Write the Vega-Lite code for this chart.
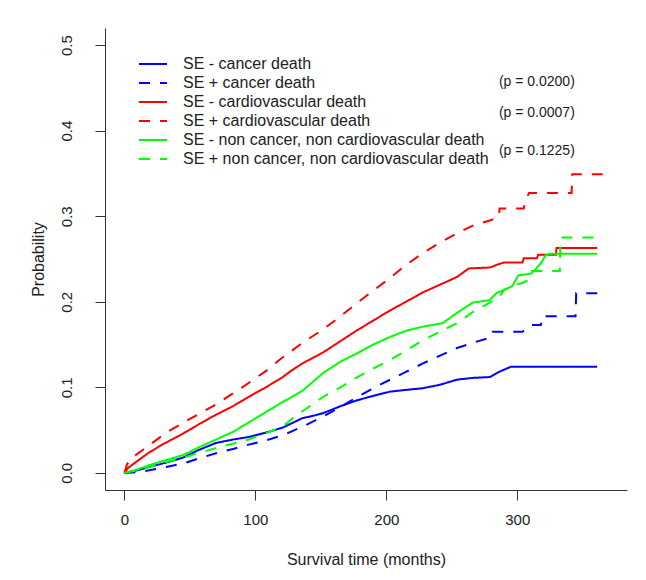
{
  "$schema": "https://vega.github.io/schema/vega-lite/v6.json",
  "width": 522,
  "height": 462,
  "autosize": {"type": "none"},
  "padding": {"left": 105, "top": 28, "right": 19, "bottom": 90},
  "background": "white",
  "config": {
    "view": {"stroke": null},
    "font": "Liberation Sans",
    "axis": {
      "grid": false,
      "labelFont": "Liberation Sans",
      "titleFont": "Liberation Sans",
      "labelFontSize": 15,
      "titleFontSize": 16,
      "titleFontWeight": "normal",
      "labelColor": "#222222",
      "titleColor": "#222222",
      "domainColor": "#333333",
      "tickColor": "#333333",
      "tickSize": 10,
      "domainWidth": 1,
      "tickWidth": 1
    },
    "legend": {
      "labelFont": "Liberation Sans",
      "labelFontSize": 16,
      "labelColor": "#222222",
      "labelLimit": 0
    }
  },
  "datasets": {
    "curves": [
      {"s": "SE - cancer death", "t": 0, "p": 0},
      {"s": "SE - cancer death", "t": 10, "p": 0.003},
      {"s": "SE - cancer death", "t": 19, "p": 0.007},
      {"s": "SE - cancer death", "t": 32, "p": 0.012},
      {"s": "SE - cancer death", "t": 45, "p": 0.018},
      {"s": "SE - cancer death", "t": 57, "p": 0.027},
      {"s": "SE - cancer death", "t": 70, "p": 0.035},
      {"s": "SE - cancer death", "t": 83, "p": 0.039},
      {"s": "SE - cancer death", "t": 95, "p": 0.042},
      {"s": "SE - cancer death", "t": 108, "p": 0.047},
      {"s": "SE - cancer death", "t": 121, "p": 0.053},
      {"s": "SE - cancer death", "t": 136, "p": 0.064},
      {"s": "SE - cancer death", "t": 145, "p": 0.067},
      {"s": "SE - cancer death", "t": 152, "p": 0.07},
      {"s": "SE - cancer death", "t": 165, "p": 0.078},
      {"s": "SE - cancer death", "t": 178, "p": 0.085},
      {"s": "SE - cancer death", "t": 190, "p": 0.09},
      {"s": "SE - cancer death", "t": 203, "p": 0.095},
      {"s": "SE - cancer death", "t": 215, "p": 0.097},
      {"s": "SE - cancer death", "t": 228, "p": 0.099},
      {"s": "SE - cancer death", "t": 241, "p": 0.103},
      {"s": "SE - cancer death", "t": 254, "p": 0.109},
      {"s": "SE - cancer death", "t": 266, "p": 0.111},
      {"s": "SE - cancer death", "t": 279, "p": 0.112},
      {"s": "SE - cancer death", "t": 286, "p": 0.118},
      {"s": "SE - cancer death", "t": 295, "p": 0.124},
      {"s": "SE - cancer death", "t": 361, "p": 0.124},

      {"s": "SE + cancer death", "t": 0, "p": 0},
      {"s": "SE + cancer death", "t": 10, "p": 0.001},
      {"s": "SE + cancer death", "t": 19, "p": 0.003},
      {"s": "SE + cancer death", "t": 32, "p": 0.007},
      {"s": "SE + cancer death", "t": 45, "p": 0.011},
      {"s": "SE + cancer death", "t": 57, "p": 0.017},
      {"s": "SE + cancer death", "t": 70, "p": 0.023},
      {"s": "SE + cancer death", "t": 83, "p": 0.028},
      {"s": "SE + cancer death", "t": 95, "p": 0.033},
      {"s": "SE + cancer death", "t": 108, "p": 0.038},
      {"s": "SE + cancer death", "t": 121, "p": 0.044},
      {"s": "SE + cancer death", "t": 136, "p": 0.054},
      {"s": "SE + cancer death", "t": 152, "p": 0.066},
      {"s": "SE + cancer death", "t": 165, "p": 0.077},
      {"s": "SE + cancer death", "t": 178, "p": 0.089},
      {"s": "SE + cancer death", "t": 190, "p": 0.099},
      {"s": "SE + cancer death", "t": 203, "p": 0.109},
      {"s": "SE + cancer death", "t": 215, "p": 0.118},
      {"s": "SE + cancer death", "t": 228, "p": 0.128},
      {"s": "SE + cancer death", "t": 241, "p": 0.137},
      {"s": "SE + cancer death", "t": 254, "p": 0.146},
      {"s": "SE + cancer death", "t": 266, "p": 0.152},
      {"s": "SE + cancer death", "t": 279, "p": 0.158},
      {"s": "SE + cancer death", "t": 281, "p": 0.165},
      {"s": "SE + cancer death", "t": 304, "p": 0.165},
      {"s": "SE + cancer death", "t": 311, "p": 0.173},
      {"s": "SE + cancer death", "t": 318, "p": 0.173},
      {"s": "SE + cancer death", "t": 319, "p": 0.183},
      {"s": "SE + cancer death", "t": 344.5, "p": 0.183},
      {"s": "SE + cancer death", "t": 345, "p": 0.21},
      {"s": "SE + cancer death", "t": 368, "p": 0.21},

      {"s": "SE - cardiovascular death", "t": 0, "p": 0},
      {"s": "SE - cardiovascular death", "t": 3, "p": 0.006},
      {"s": "SE - cardiovascular death", "t": 10, "p": 0.014},
      {"s": "SE - cardiovascular death", "t": 19, "p": 0.024},
      {"s": "SE - cardiovascular death", "t": 30, "p": 0.034},
      {"s": "SE - cardiovascular death", "t": 45, "p": 0.046},
      {"s": "SE - cardiovascular death", "t": 57, "p": 0.057},
      {"s": "SE - cardiovascular death", "t": 70, "p": 0.068},
      {"s": "SE - cardiovascular death", "t": 83, "p": 0.078},
      {"s": "SE - cardiovascular death", "t": 95, "p": 0.089},
      {"s": "SE - cardiovascular death", "t": 108, "p": 0.1},
      {"s": "SE - cardiovascular death", "t": 121, "p": 0.112},
      {"s": "SE - cardiovascular death", "t": 127, "p": 0.119},
      {"s": "SE - cardiovascular death", "t": 136, "p": 0.128},
      {"s": "SE - cardiovascular death", "t": 152, "p": 0.141},
      {"s": "SE - cardiovascular death", "t": 165, "p": 0.154},
      {"s": "SE - cardiovascular death", "t": 178, "p": 0.167},
      {"s": "SE - cardiovascular death", "t": 190, "p": 0.178},
      {"s": "SE - cardiovascular death", "t": 203, "p": 0.19},
      {"s": "SE - cardiovascular death", "t": 215, "p": 0.2},
      {"s": "SE - cardiovascular death", "t": 228, "p": 0.211},
      {"s": "SE - cardiovascular death", "t": 241, "p": 0.22},
      {"s": "SE - cardiovascular death", "t": 254, "p": 0.229},
      {"s": "SE - cardiovascular death", "t": 263, "p": 0.239},
      {"s": "SE - cardiovascular death", "t": 279, "p": 0.24},
      {"s": "SE - cardiovascular death", "t": 284, "p": 0.243},
      {"s": "SE - cardiovascular death", "t": 290, "p": 0.246},
      {"s": "SE - cardiovascular death", "t": 304, "p": 0.246},
      {"s": "SE - cardiovascular death", "t": 305, "p": 0.251},
      {"s": "SE - cardiovascular death", "t": 315, "p": 0.251},
      {"s": "SE - cardiovascular death", "t": 316, "p": 0.255},
      {"s": "SE - cardiovascular death", "t": 329.5, "p": 0.255},
      {"s": "SE - cardiovascular death", "t": 330, "p": 0.263},
      {"s": "SE - cardiovascular death", "t": 361, "p": 0.263},

      {"s": "SE + cardiovascular death", "t": 0, "p": 0},
      {"s": "SE + cardiovascular death", "t": 2, "p": 0.01},
      {"s": "SE + cardiovascular death", "t": 7, "p": 0.019},
      {"s": "SE + cardiovascular death", "t": 15, "p": 0.028},
      {"s": "SE + cardiovascular death", "t": 32, "p": 0.047},
      {"s": "SE + cardiovascular death", "t": 50, "p": 0.063},
      {"s": "SE + cardiovascular death", "t": 70, "p": 0.08},
      {"s": "SE + cardiovascular death", "t": 90, "p": 0.1},
      {"s": "SE + cardiovascular death", "t": 108, "p": 0.119},
      {"s": "SE + cardiovascular death", "t": 120, "p": 0.134},
      {"s": "SE + cardiovascular death", "t": 136, "p": 0.152},
      {"s": "SE + cardiovascular death", "t": 152, "p": 0.168},
      {"s": "SE + cardiovascular death", "t": 165, "p": 0.183},
      {"s": "SE + cardiovascular death", "t": 178, "p": 0.199},
      {"s": "SE + cardiovascular death", "t": 190, "p": 0.213},
      {"s": "SE + cardiovascular death", "t": 203, "p": 0.228},
      {"s": "SE + cardiovascular death", "t": 215, "p": 0.243},
      {"s": "SE + cardiovascular death", "t": 228, "p": 0.257},
      {"s": "SE + cardiovascular death", "t": 241, "p": 0.269},
      {"s": "SE + cardiovascular death", "t": 254, "p": 0.28},
      {"s": "SE + cardiovascular death", "t": 266, "p": 0.289},
      {"s": "SE + cardiovascular death", "t": 279, "p": 0.295},
      {"s": "SE + cardiovascular death", "t": 286, "p": 0.299},
      {"s": "SE + cardiovascular death", "t": 286.5, "p": 0.309},
      {"s": "SE + cardiovascular death", "t": 305, "p": 0.309},
      {"s": "SE + cardiovascular death", "t": 306, "p": 0.318},
      {"s": "SE + cardiovascular death", "t": 309, "p": 0.327},
      {"s": "SE + cardiovascular death", "t": 341.5, "p": 0.327},
      {"s": "SE + cardiovascular death", "t": 342, "p": 0.349},
      {"s": "SE + cardiovascular death", "t": 366, "p": 0.349},

      {"s": "SE - non cancer, non cardiovascular death", "t": 0, "p": 0},
      {"s": "SE - non cancer, non cardiovascular death", "t": 10, "p": 0.004},
      {"s": "SE - non cancer, non cardiovascular death", "t": 19, "p": 0.009},
      {"s": "SE - non cancer, non cardiovascular death", "t": 32, "p": 0.015},
      {"s": "SE - non cancer, non cardiovascular death", "t": 45, "p": 0.021},
      {"s": "SE - non cancer, non cardiovascular death", "t": 57, "p": 0.03},
      {"s": "SE - non cancer, non cardiovascular death", "t": 70, "p": 0.039},
      {"s": "SE - non cancer, non cardiovascular death", "t": 83, "p": 0.048},
      {"s": "SE - non cancer, non cardiovascular death", "t": 95, "p": 0.059},
      {"s": "SE - non cancer, non cardiovascular death", "t": 108, "p": 0.071},
      {"s": "SE - non cancer, non cardiovascular death", "t": 121, "p": 0.083},
      {"s": "SE - non cancer, non cardiovascular death", "t": 127, "p": 0.088},
      {"s": "SE - non cancer, non cardiovascular death", "t": 136, "p": 0.096},
      {"s": "SE - non cancer, non cardiovascular death", "t": 152, "p": 0.117},
      {"s": "SE - non cancer, non cardiovascular death", "t": 165, "p": 0.13},
      {"s": "SE - non cancer, non cardiovascular death", "t": 178, "p": 0.14},
      {"s": "SE - non cancer, non cardiovascular death", "t": 190, "p": 0.15},
      {"s": "SE - non cancer, non cardiovascular death", "t": 203, "p": 0.159},
      {"s": "SE - non cancer, non cardiovascular death", "t": 215, "p": 0.166},
      {"s": "SE - non cancer, non cardiovascular death", "t": 228, "p": 0.171},
      {"s": "SE - non cancer, non cardiovascular death", "t": 243, "p": 0.175},
      {"s": "SE - non cancer, non cardiovascular death", "t": 254, "p": 0.187},
      {"s": "SE - non cancer, non cardiovascular death", "t": 266, "p": 0.199},
      {"s": "SE - non cancer, non cardiovascular death", "t": 279, "p": 0.202},
      {"s": "SE - non cancer, non cardiovascular death", "t": 284, "p": 0.21},
      {"s": "SE - non cancer, non cardiovascular death", "t": 296, "p": 0.218},
      {"s": "SE - non cancer, non cardiovascular death", "t": 301, "p": 0.231},
      {"s": "SE - non cancer, non cardiovascular death", "t": 311, "p": 0.233},
      {"s": "SE - non cancer, non cardiovascular death", "t": 318, "p": 0.245},
      {"s": "SE - non cancer, non cardiovascular death", "t": 322, "p": 0.255},
      {"s": "SE - non cancer, non cardiovascular death", "t": 325, "p": 0.256},
      {"s": "SE - non cancer, non cardiovascular death", "t": 361, "p": 0.256},

      {"s": "SE + non cancer, non cardiovascular death", "t": 0, "p": 0},
      {"s": "SE + non cancer, non cardiovascular death", "t": 10, "p": 0.003},
      {"s": "SE + non cancer, non cardiovascular death", "t": 19, "p": 0.007},
      {"s": "SE + non cancer, non cardiovascular death", "t": 45, "p": 0.018},
      {"s": "SE + non cancer, non cardiovascular death", "t": 70, "p": 0.029},
      {"s": "SE + non cancer, non cardiovascular death", "t": 95, "p": 0.039},
      {"s": "SE + non cancer, non cardiovascular death", "t": 121, "p": 0.054},
      {"s": "SE + non cancer, non cardiovascular death", "t": 127, "p": 0.062},
      {"s": "SE + non cancer, non cardiovascular death", "t": 136, "p": 0.072},
      {"s": "SE + non cancer, non cardiovascular death", "t": 152, "p": 0.089},
      {"s": "SE + non cancer, non cardiovascular death", "t": 165, "p": 0.1},
      {"s": "SE + non cancer, non cardiovascular death", "t": 178, "p": 0.112},
      {"s": "SE + non cancer, non cardiovascular death", "t": 190, "p": 0.122},
      {"s": "SE + non cancer, non cardiovascular death", "t": 203, "p": 0.132},
      {"s": "SE + non cancer, non cardiovascular death", "t": 215, "p": 0.143},
      {"s": "SE + non cancer, non cardiovascular death", "t": 228, "p": 0.155},
      {"s": "SE + non cancer, non cardiovascular death", "t": 241, "p": 0.165},
      {"s": "SE + non cancer, non cardiovascular death", "t": 254, "p": 0.175},
      {"s": "SE + non cancer, non cardiovascular death", "t": 266, "p": 0.188},
      {"s": "SE + non cancer, non cardiovascular death", "t": 279, "p": 0.199},
      {"s": "SE + non cancer, non cardiovascular death", "t": 286, "p": 0.205},
      {"s": "SE + non cancer, non cardiovascular death", "t": 290, "p": 0.214},
      {"s": "SE + non cancer, non cardiovascular death", "t": 299, "p": 0.22},
      {"s": "SE + non cancer, non cardiovascular death", "t": 304, "p": 0.222},
      {"s": "SE + non cancer, non cardiovascular death", "t": 308, "p": 0.225},
      {"s": "SE + non cancer, non cardiovascular death", "t": 311, "p": 0.236},
      {"s": "SE + non cancer, non cardiovascular death", "t": 332.5, "p": 0.236},
      {"s": "SE + non cancer, non cardiovascular death", "t": 333, "p": 0.275},
      {"s": "SE + non cancer, non cardiovascular death", "t": 366, "p": 0.275}
    ],
    "pvals": [
      {"t": 286, "p": 0.457, "label": "(p = 0.0200)"},
      {"t": 286, "p": 0.4205, "label": "(p = 0.0007)"},
      {"t": 286, "p": 0.376, "label": "(p = 0.1225)"}
    ]
  },
  "layer": [
    {
      "data": {"name": "curves"},
      "mark": {"type": "line", "strokeWidth": 2, "interpolate": "linear"},
      "encoding": {
        "x": {
          "field": "t", "type": "quantitative",
          "scale": {"domain": [-14.8, 383.8], "nice": false, "zero": false},
          "axis": {"title": "Survival time (months)", "values": [0, 100, 200, 300], "labelPadding": 12, "titlePadding": 24}
        },
        "y": {
          "field": "p", "type": "quantitative",
          "scale": {"domain": [-0.02, 0.52], "nice": false, "zero": false},
          "axis": {"title": "Probability", "values": [0, 0.1, 0.2, 0.3, 0.4, 0.5], "format": ".1f", "labelAngle": -90, "labelAlign": "center", "labelBaseline": "bottom", "labelPadding": 21, "titlePadding": 13}
        },
        "color": {
          "field": "s", "type": "nominal",
          "scale": {
            "domain": ["SE - cancer death", "SE + cancer death", "SE - cardiovascular death", "SE + cardiovascular death", "SE - non cancer, non cardiovascular death", "SE + non cancer, non cardiovascular death"],
            "range": ["#0000ff", "#0000ff", "#ff0000", "#ff0000", "#00ff00", "#00ff00"]
          },
          "legend": {
            "title": null,
            "orient": "none",
            "legendX": 40,
            "legendY": 28,
            "symbolType": "M-2,0H2",
            "symbolSize": 196,
            "symbolStrokeWidth": 2,
            "labelOffset": 22,
            "rowPadding": 3,
            "padding": 0,
            "labelLimit": 0
          }
        },
        "strokeDash": {
          "field": "s", "type": "nominal",
          "scale": {
            "domain": ["SE - cancer death", "SE + cancer death", "SE - cardiovascular death", "SE + cardiovascular death", "SE - non cancer, non cardiovascular death", "SE + non cancer, non cardiovascular death"],
            "range": [[1, 0], [11, 10], [1, 0], [11, 10], [1, 0], [11, 10]]
          },
          "legend": {
            "title": null,
            "orient": "none",
            "legendX": 40,
            "legendY": 28,
            "symbolType": "M-2,0H2",
            "symbolSize": 196,
            "symbolStrokeWidth": 2,
            "labelOffset": 22,
            "rowPadding": 3,
            "padding": 0,
            "labelLimit": 0
          }
        }
      }
    },
    {
      "data": {"name": "pvals"},
      "mark": {"type": "text", "align": "left", "baseline": "middle", "fontSize": 14, "color": "#222222", "font": "Liberation Sans"},
      "encoding": {
        "x": {"field": "t", "type": "quantitative"},
        "y": {"field": "p", "type": "quantitative"},
        "text": {"field": "label"}
      }
    }
  ]
}
